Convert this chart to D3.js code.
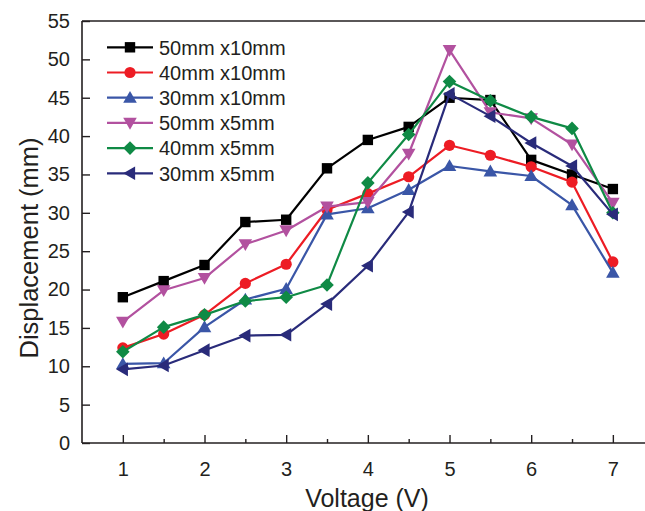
<!DOCTYPE html>
<html>
<head>
<meta charset="utf-8">
<script src="https://cdn.jsdelivr.net/npm/d3@7"></script>
<style>
  html, body { margin: 0; padding: 0; background: #fff; }
  svg { display: block; }
  text { font-family: "Liberation Sans", Arial, sans-serif; fill: #231f20; }
</style>
</head>
<body>
<svg id="chart" width="645" height="511"></svg>
<script>
const voltages = [1, 1.5, 2, 2.5, 3, 3.5, 4, 4.5, 5, 5.5, 6, 6.5, 7];
const seriesNames = ["50mm x10mm", "40mm x10mm", "30mm x10mm", "50mm x5mm", "40mm x5mm", "30mm x5mm"];
const s50x10 = [19.0, 21.1, 23.2, 28.8, 29.1, 35.8, 39.5, 41.2, 45.0, 44.7, 36.9, 35.0, 33.1];
const s40x10 = [12.4, 14.2, 16.7, 20.8, 23.3, 30.4, 32.5, 34.7, 38.8, 37.5, 36.0, 34.0, 23.6];
const s30x10 = [10.3, 10.4, 15.1, 18.7, 20.1, 29.8, 30.6, 33.0, 36.1, 35.4, 34.8, 31.0, 22.2];
const s50x5  = [15.8, 19.9, 21.5, 25.9, 27.7, 30.8, 31.4, 37.7, 51.2, 43.1, 42.3, 38.9, 31.3];
const s40x5  = [11.9, 15.1, 16.7, 18.5, 19.0, 20.6, 33.9, 40.2, 47.1, 44.6, 42.5, 41.0, 30.0];
const s30x5  = [9.6, 10.1, 12.1, 14.0, 14.1, 18.1, 23.1, 30.1, 45.5, 42.6, 39.1, 36.1, 29.8];
const seriesValues = [s50x10, s40x10, s30x10, s50x5, s40x5, s30x5];
const seriesColors = ["#000000", "#ed1c24", "#3a56a7", "#b2519f", "#0f8a45", "#292b7a"];
const seriesShapes = ["square", "circle", "triUp", "triDown", "diamond", "triLeft"];
const yTicks = [0, 5, 10, 15, 20, 25, 30, 35, 40, 45, 50, 55];
const xTicks = [1, 2, 3, 4, 5, 6, 7];
const xMinorTicks = [1.5, 2.5, 3.5, 4.5, 5.5, 6.5];

const svg = d3.select("#chart");
const padL = 82, padT = 21, padB = 443;
const x = d3.scaleLinear().domain([0.5, 7.5]).range([padL, padL + 7 * 81.67]);
const y = d3.scaleLinear().domain([0, 55]).range([padB, padT]);

const axisColor = "#231f20";
svg.append("line").attr("x1", padL).attr("x2", 645).attr("y1", padT).attr("y2", padT)
  .attr("stroke", axisColor).attr("stroke-width", 1.6);

const xAxis = svg.append("g").attr("transform", `translate(0,${padB})`)
  .call(d3.axisBottom(x).tickValues(xTicks).tickSize(-8).tickPadding(19).tickFormat(d3.format("d")));
svg.append("g").attr("transform", `translate(0,${padB})`)
  .call(d3.axisBottom(x).tickValues(xMinorTicks).tickSize(-4).tickFormat(""))
  .call(g => g.select(".domain").remove());
const yAxis = svg.append("g").attr("transform", `translate(${padL},0)`)
  .call(d3.axisLeft(y).tickValues(yTicks).tickSize(-8).tickPadding(12));

svg.selectAll(".domain").attr("stroke", axisColor).attr("stroke-width", 1.6);
svg.selectAll(".tick line").attr("stroke", axisColor).attr("stroke-width", 1.4);
svg.selectAll(".tick text").attr("font-size", 20).attr("font-family", "'Liberation Sans', Arial, sans-serif").attr("fill", "#231f20");
xAxis.select(".domain").attr("d", `M${padL},0H645`);
yAxis.select(".domain").attr("d", `M0,${padT}V${padB}`);

svg.append("text").attr("x", 367).attr("y", 507).attr("text-anchor", "middle")
  .attr("font-size", 25).text("Voltage (V)");
svg.append("text").attr("transform", "translate(38,248) rotate(-90)").attr("text-anchor", "middle")
  .attr("font-size", 25.5).text("Displacement (mm)");

function marker(g, shape, color, cx, cy) {
  if (shape === "square") {
    g.append("rect").attr("x", cx - 5.2).attr("y", cy - 5.2).attr("width", 10.4).attr("height", 10.4).attr("fill", color);
  } else if (shape === "circle") {
    g.append("circle").attr("cx", cx).attr("cy", cy).attr("r", 5.6).attr("fill", color);
  } else {
    const s = 6.8;
    let pts;
    if (shape === "triUp") pts = [[cx, cy - s], [cx + s, cy + s * 0.75], [cx - s, cy + s * 0.75]];
    else if (shape === "triDown") pts = [[cx, cy + s], [cx + s, cy - s * 0.75], [cx - s, cy - s * 0.75]];
    else if (shape === "triLeft") pts = [[cx - s, cy], [cx + s * 0.75, cy - s], [cx + s * 0.75, cy + s]];
    else pts = [[cx, cy - 6.8], [cx + 6.8, cy], [cx, cy + 6.8], [cx - 6.8, cy]];
    g.append("polygon").attr("points", pts.map(p => p.join(",")).join(" ")).attr("fill", color);
  }
}

const line = d3.line().x((d, i) => x(voltages[i])).y(d => y(d));
seriesValues.forEach((vals, k) => {
  const g = svg.append("g");
  g.append("path").datum(vals).attr("d", line).attr("fill", "none")
    .attr("stroke", seriesColors[k]).attr("stroke-width", 2.2).attr("stroke-linejoin", "round");
  vals.forEach((v, i) => marker(g, seriesShapes[k], seriesColors[k], x(voltages[i]), y(v)));
});

const legend = svg.append("g");
seriesNames.forEach((name, k) => {
  const ly = 47.3 + k * 25.2;
  legend.append("line").attr("x1", 107).attr("x2", 153).attr("y1", ly).attr("y2", ly)
    .attr("stroke", seriesColors[k]).attr("stroke-width", 2.2);
  marker(legend, seriesShapes[k], seriesColors[k], 130, ly);
  legend.append("text").attr("x", 159).attr("y", ly + 7.2).attr("font-size", 20).text(name);
});
</script>
</body>
</html>
